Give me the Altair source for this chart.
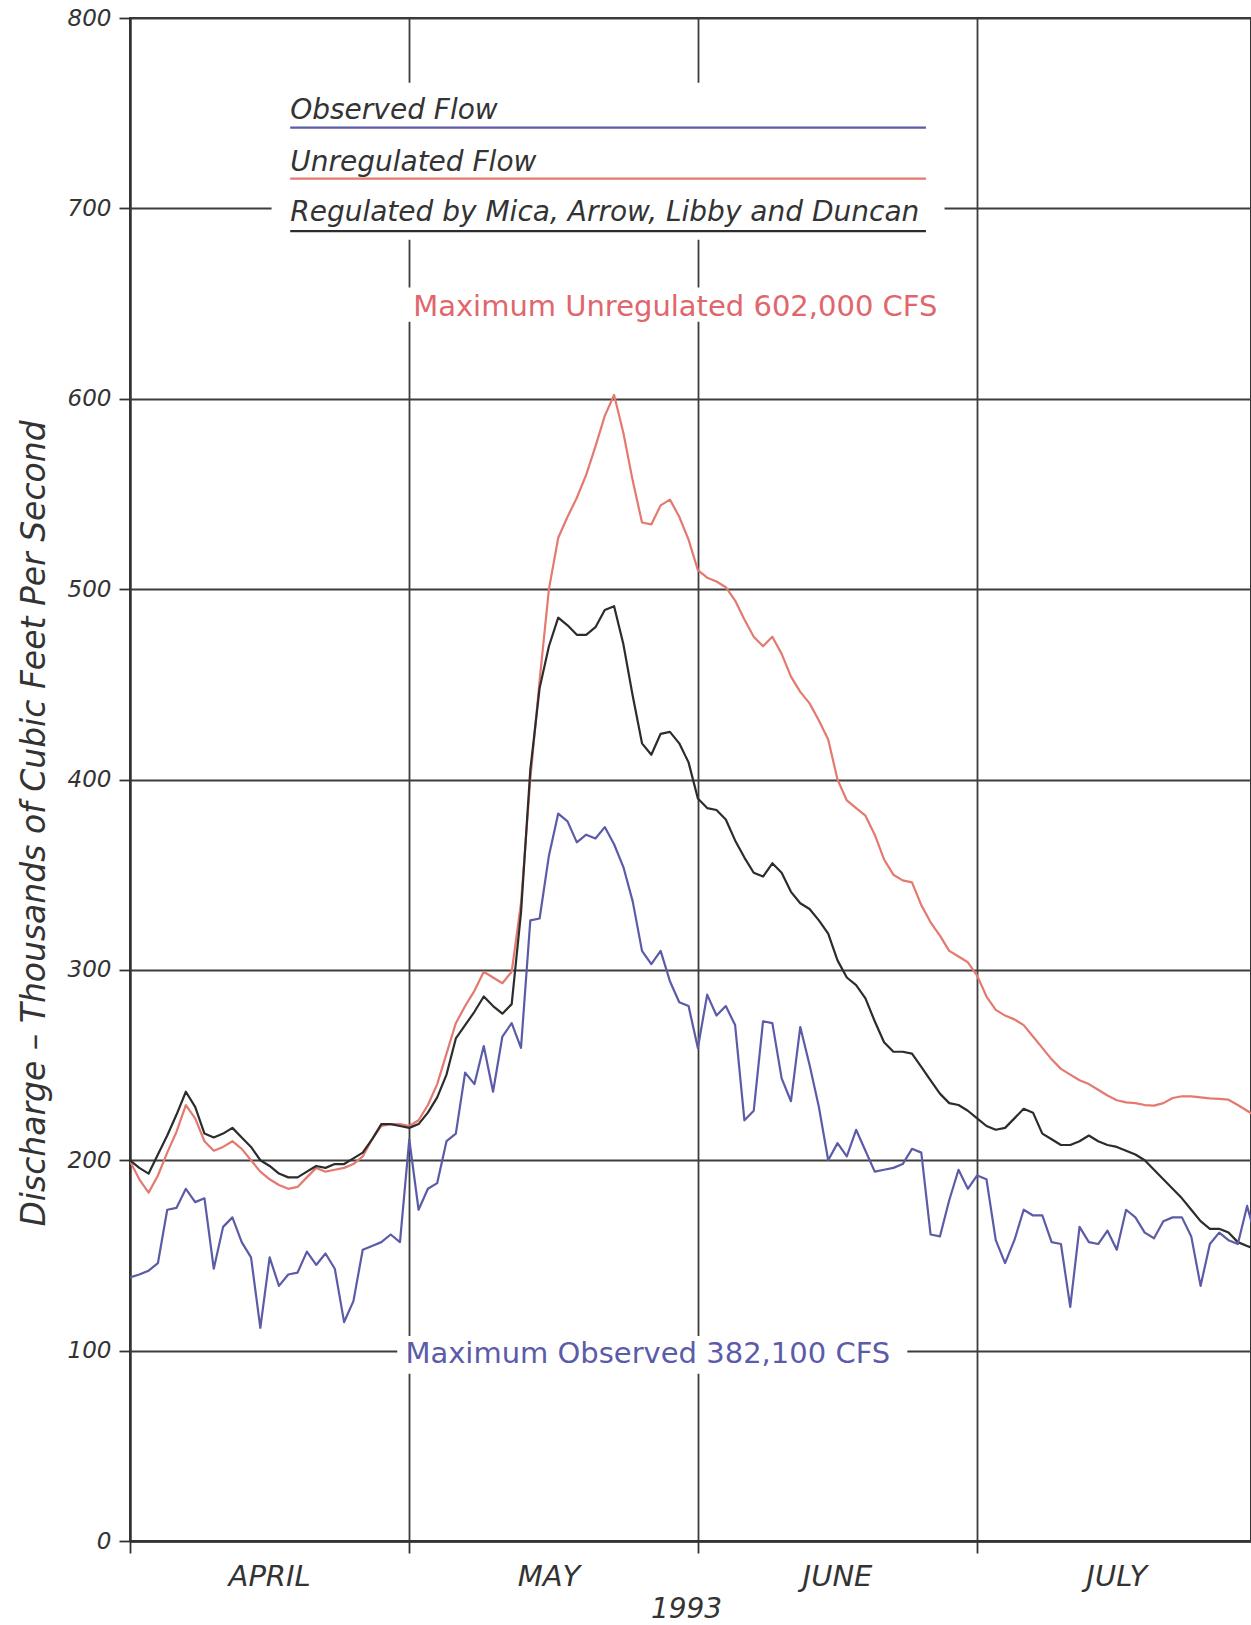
import altair as alt
import pandas as pd

# Daily discharge, 1 April - 31 July 1993, thousands of cubic feet per second
observed = [
    138.5, 140, 142, 146, 174, 175, 185, 178, 180, 143,
    165, 170, 157, 149, 112, 149, 134, 140, 141, 152,
    145, 151, 143, 115, 126, 153, 155, 157, 161, 157,
    211, 174, 185, 188, 210, 214, 246, 240, 260, 236,
    265, 272, 259, 326, 327, 360, 382.1, 378, 367, 371,
    369, 375, 366, 354, 336, 310, 303, 310, 294, 283,
    281, 259, 287, 276, 281, 271, 221, 226, 273, 272,
    243, 231, 270, 250, 228, 200, 209, 202, 216, 205,
    194, 195, 196, 198, 206, 204, 161, 160, 179, 195,
    185, 192, 190, 158, 146, 158, 174, 171, 171, 157,
    156, 123, 165, 157, 156, 163, 153, 174, 170, 162,
    159, 168, 170, 170, 160, 134, 156, 162, 158, 156,
    176, 158,
]
unregulated = [
    199.5, 190, 183, 192, 204, 215, 229, 222, 210, 205,
    207, 210, 206, 200, 194, 190, 187, 185, 186, 191,
    196, 194, 195, 196, 198, 202, 211, 218, 219, 219,
    218, 221, 229, 240, 256, 272, 281, 289, 299, 296,
    293, 299, 335, 400, 452, 500, 527, 538, 548, 560,
    575, 591, 602.0, 582, 557, 535, 534, 544, 547, 538,
    526, 510, 506, 504, 501, 494, 484, 475, 470, 475,
    466, 454, 446, 440, 431, 421, 400, 389, 385, 381,
    371, 358, 350, 347, 346, 334, 325, 318, 310, 307,
    304, 297, 286, 279, 276, 274, 271, 265, 259, 253,
    248, 245, 242, 240, 237, 234, 231.5, 230.4, 230, 229,
    228.7, 230, 232.7, 233.6, 233.6, 233, 232.5, 232.2, 231.8, 229,
    226, 223,
]
regulated = [
    200, 196, 193, 203, 213, 224, 236, 228, 214, 212,
    214, 217, 212, 207, 200, 197, 193, 191, 191, 194,
    197, 196, 198, 198, 201, 204, 211, 219, 219, 218,
    217, 219, 225, 233, 245, 264, 271, 278, 286, 281,
    277, 282, 330, 405, 448, 470, 485, 481, 476, 476,
    480, 489, 491, 471, 444, 419, 413, 424, 425, 419,
    409, 390, 385, 384, 379, 368, 359, 351, 349, 356,
    351, 341, 335, 332, 326, 319, 305, 296, 292, 285,
    273, 262, 257, 257, 256, 249, 242, 235, 230, 229,
    226, 222, 218, 216, 217, 222, 227, 225, 214, 211,
    208, 208, 210, 213, 210, 208, 207, 205, 203, 200,
    195, 190, 185, 180, 174, 168, 164, 164, 162, 157,
    155, 153,
]

series_names = [
    "Observed Flow",
    "Unregulated Flow",
    "Regulated by Mica, Arrow, Libby and Duncan",
]
month_names = ["APRIL", "MAY", "JUNE", "JULY"]
month_starts = ["1993-04-01", "1993-05-01", "1993-06-01", "1993-07-01"]
month_mids = ["1993-04-16", "1993-05-16", "1993-06-16", "1993-07-16"]
year_label = "1993"
y_title = "Discharge \u2013 Thousands of Cubic Feet Per Second"

# ---- styling -------------------------------------------------------------
FONT = "DejaVu Sans"
INK = "#333333"
GRID = "#3d3d3d"
BLUE = "#5b5ba8"
RED = "#e4796f"
BLACK = "#2c2c2c"
RED_TEXT = "#e0666c"
SERIES_COLORS = [BLUE, RED, BLACK]

PLOT_W, PLOT_H = 1121, 1523


def iso(ts):
    return pd.Timestamp(ts).strftime("%Y-%m-%dT%H:%M:%SZ")


def ms(ts):
    return int(pd.Timestamp(ts, tz="UTC").value // 10**6)


days = pd.date_range("1993-04-01", periods=len(observed), freq="D")
dates = [iso(d) for d in days]

x_scale = alt.Scale(type="utc", domain=[ms("1993-04-01"), ms("1993-07-30T10:00")], nice=False)
y_scale = alt.Scale(domain=[0, 800], nice=False, zero=True)

x_axis = alt.Axis(
    values=[ms(m) for m in month_starts],
    labels=False,
    tickSize=12,
    grid=True,
    title=year_label,
    titleFontSize=28,
    titleX=556,
    titleY=68,
    titleAlign="center",
    titleBaseline="middle",
    domainWidth=2.6,
)
y_axis = alt.Axis(
    values=list(range(0, 801, 100)),
    tickSize=11,
    labelPadding=8,
    grid=True,
    title=y_title,
    titleFontSize=33,
    titleAngle=270,
    titleX=-96,
    titleY=805,
    titleAlign="center",
    titleBaseline="middle",
)

X = alt.X("date:T", scale=x_scale, axis=x_axis)
Y = alt.Y("flow:Q", scale=y_scale, axis=y_axis)


def flow_line(values, color):
    df = pd.DataFrame({"date": dates, "flow": values})
    return (
        alt.Chart(df)
        .mark_line(color=color, strokeWidth=2.2, strokeJoin="round", clip=True)
        .encode(x=X, y=Y)
    )


# white panels that keep the grid out from behind the annotation text
mask = pd.DataFrame(
    {
        "date": [iso("1993-04-16T05:00"), iso("1993-04-30T07:00"), iso("1993-04-29T17:00")],
        "date_end": [iso("1993-06-27T12:00"), iso("1993-06-28T06:00"), iso("1993-06-23T12:00")],
        "flow": [766, 658.5, 107.7],
        "flow_end": [683.5, 640.5, 87.8],
    }
)
mask_layer = (
    alt.Chart(mask)
    .mark_rect(color="white")
    .encode(x=X, x2=alt.X2("date_end"), y=Y, y2=alt.Y2("flow_end"))
)

# legend block: label above a coloured underline
legend_x0 = iso("1993-04-18T05:00")
legend_x1 = iso("1993-06-25T12:00")
legend_text = pd.DataFrame(
    {"date": [legend_x0] * 3, "flow": [746.7, 719.5, 693.3], "label": series_names}
)
legend_swatch = pd.DataFrame(
    {
        "date": [legend_x0] * 3,
        "date_end": [legend_x1] * 3,
        "flow": [742.4, 715.6, 688.1],
        "swatch": SERIES_COLORS,
    }
)
legend_text_layer = (
    alt.Chart(legend_text)
    .mark_text(align="left", baseline="alphabetic", font=FONT, fontSize=28,
               fontStyle="italic", color=INK)
    .encode(x=X, y=Y, text="label:N")
)
legend_rule_layer = (
    alt.Chart(legend_swatch)
    .mark_rule(strokeWidth=2.2)
    .encode(x=X, x2=alt.X2("date_end"), y=Y, color=alt.Color("swatch:N", scale=None))
)

# peak annotations
peak_obs = max(observed)
peak_unreg = max(unregulated)
peak_labels = pd.DataFrame(
    {
        "date": [iso("1993-05-01T10:00"), iso("1993-04-30T14:00")],
        "flow": [648, 98],
        "label": [
            f"Maximum Unregulated {peak_unreg * 1000:,.0f} CFS",
            f"Maximum Observed {peak_obs * 1000:,.0f} CFS",
        ],
        "tone": [RED_TEXT, BLUE],
    }
)
peak_layer = (
    alt.Chart(peak_labels)
    .mark_text(align="left", baseline="middle", font=FONT, fontSize=29)
    .encode(x=X, y=Y, text="label:N", color=alt.Color("tone:N", scale=None))
)

# month names centred under each month
months = pd.DataFrame({"date": [iso(m) for m in month_mids], "label": month_names})
month_layer = (
    alt.Chart(months)
    .mark_text(align="center", baseline="middle", font=FONT, fontSize=29,
               fontStyle="italic", color=INK)
    .encode(x=X, y=alt.value(PLOT_H + 36), text="label:N")
)

chart = (
    alt.layer(
        mask_layer,
        flow_line(unregulated, RED),
        flow_line(regulated, BLACK),
        flow_line(observed, BLUE),
        legend_rule_layer,
        legend_text_layer,
        peak_layer,
        month_layer,
    )
    .properties(
        width=PLOT_W,
        height=PLOT_H,
        padding={"left": 130, "top": 18, "right": 0, "bottom": 84},
        autosize=alt.AutoSizeParams(type="none"),
        background="white",
    )
    .configure_view(stroke=INK, strokeWidth=2)
    .configure_axis(
        gridColor=GRID,
        gridWidth=1.8,
        domainColor=INK,
        domainWidth=2.2,
        tickColor=INK,
        tickWidth=1.8,
        labelFont=FONT,
        labelFontSize=23,
        labelFontStyle="italic",
        labelColor=INK,
        titleFont=FONT,
        titleFontWeight="normal",
        titleFontStyle="italic",
        titleColor=INK,
    )
)

chart.save("out.html", embed_options={"renderer": "svg", "actions": False})
